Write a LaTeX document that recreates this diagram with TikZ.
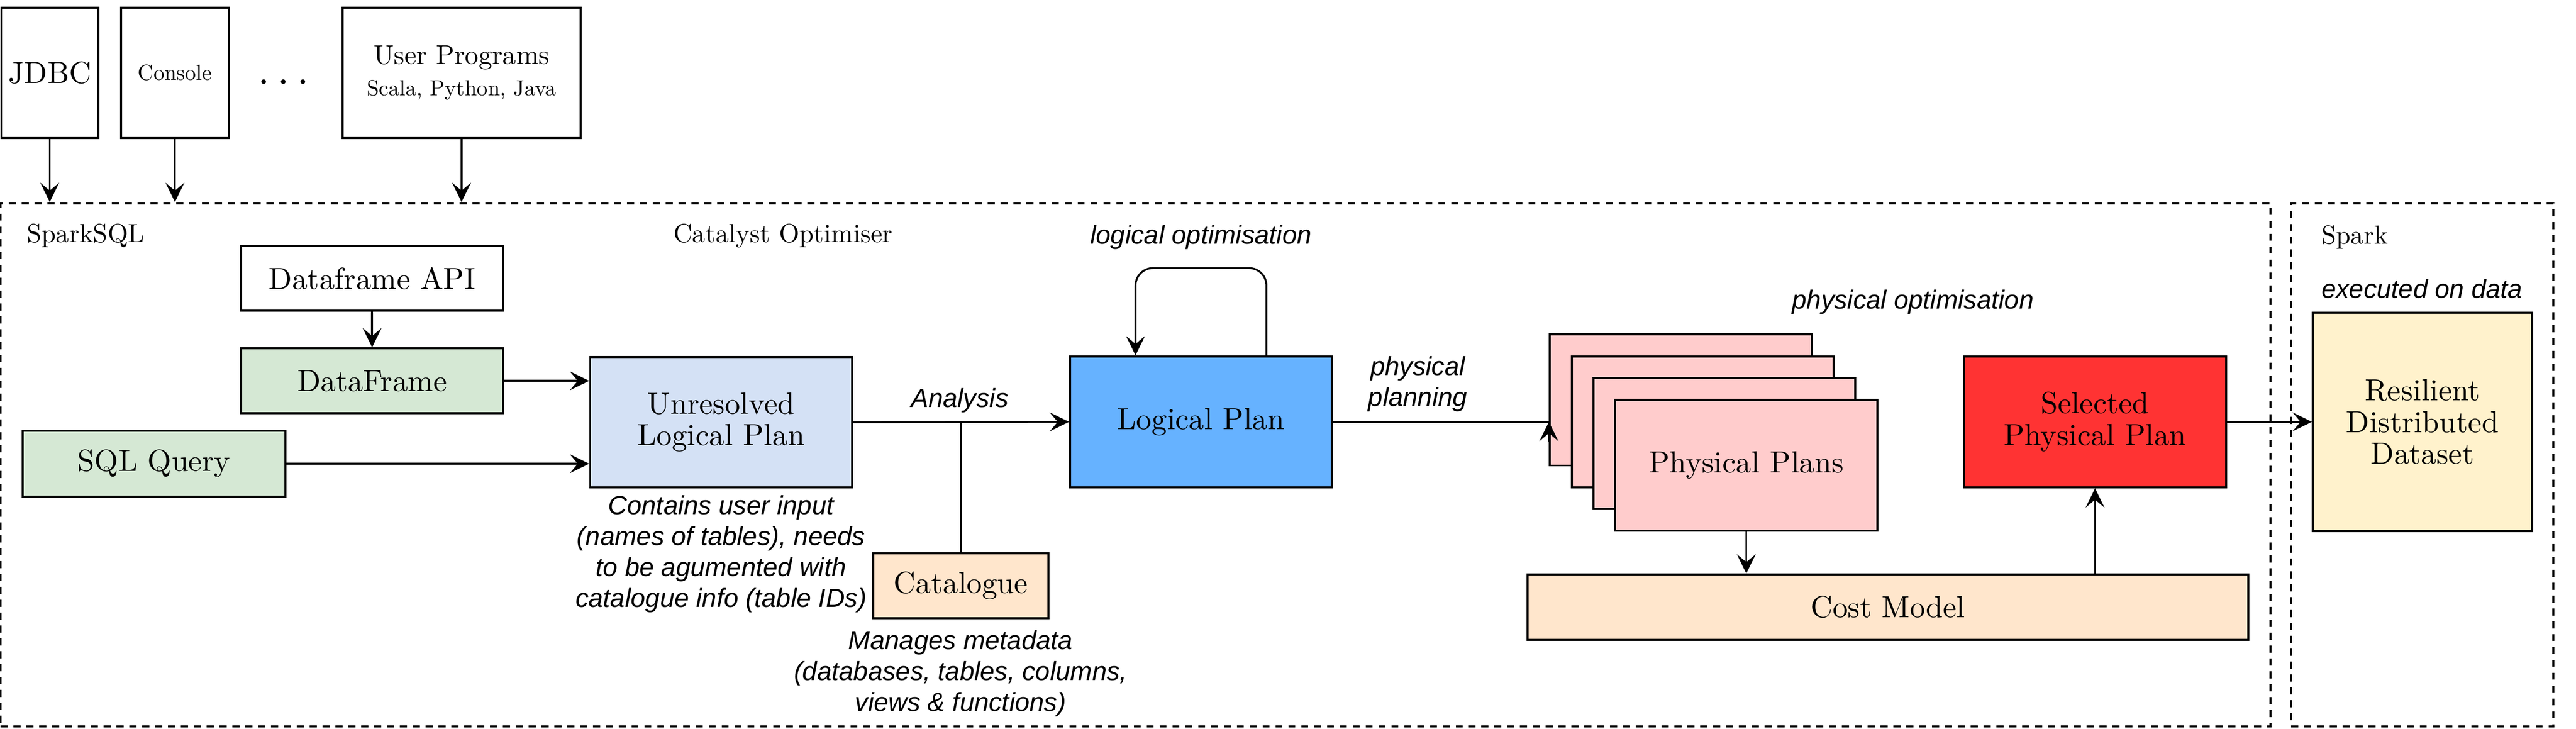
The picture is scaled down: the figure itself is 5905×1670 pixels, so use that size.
\documentclass[tikz,border=0pt]{standalone}
\usepackage{fontspec}
\setmainfont{lmroman10-regular.otf}[ItalicFont=lmroman10-italic.otf,BoldFont=lmroman10-bold.otf]
\newfontfamily\lblfont{Liberation Sans}
\usetikzlibrary{arrows.meta}
\definecolor{cgreen}{HTML}{D5E8D4}
\definecolor{cblue}{HTML}{D4E1F5}
\definecolor{clp}{HTML}{66B2FF}
\definecolor{cpink}{HTML}{FFCCCC}
\definecolor{cred}{HTML}{FF3333}
\definecolor{corange}{HTML}{FFE6CC}
\definecolor{cyellow}{HTML}{FFF2CC}
\newcommand\szBox{\fontsize{19.92pt}{20.6pt}\selectfont}
\newcommand\szLbl{\fontsize{17.07pt}{20.2pt}\selectfont}
\newcommand\szSmall{\fontsize{14.23pt}{17pt}\selectfont}
\newcommand\szUser{\fontsize{17.64pt}{20.2pt}\selectfont}
\newcommand\szDots{\fontsize{28.45pt}{30pt}\selectfont}
\tikzset{
  box/.style={draw, line width=1.3pt, inner sep=0pt, align=center, font=\szBox},
  cont/.style={draw, line width=1.5pt, dash pattern=on 0.16cm off 0.135cm, inner sep=0pt},
  conn/.style={line width=1.2pt},
  arr/.style={conn, -{Stealth[length=0.44cm, width=0.43cm, inset=0.18cm]}},
  lbl/.style={font=\lblfont\itshape\szLbl, align=center, inner sep=0pt},
  tag/.style={font=\szLbl, inner sep=0pt, anchor=base west},
}
\begin{document}
\begin{tikzpicture}[x=0.01cm, y=-0.01cm]
\useasboundingbox (0,0) rectangle (5905,1670);
% containers
\node[cont, minimum width=52cm, minimum height=11.99cm] (sparksql) at (2603,1065.5) {};
\node[cont, minimum width=6.01cm, minimum height=11.99cm] (spark) at (5552.5,1065.5) {};
\node[tag] (tsparksql) at (61,556) {SparkSQL};
\node[tag] (tcatalyst) at (1543,556) {Catalyst Optimiser};
\node[tag] (tspark) at (5321,559) {Spark};
% top inputs
\node[box, minimum width=2.22cm, minimum height=2.98cm] (jdbc) at (114,167) {JDBC};
\node[box, minimum width=2.46cm, minimum height=2.98cm, font=\szSmall] (console) at (401,167) {Console};
\node[font=\szDots, anchor=base, inner sep=0pt] (dots) at (650,193) {.\hspace{0.1667em}.\hspace{0.1667em}.};
\node[box, minimum width=5.45cm, minimum height=2.98cm, font=\szUser] (user) at (1058,167) {User Programs\\{\szSmall Scala, Python, Java}};
\draw[arr] (jdbc.south) -- (jdbc.south |- sparksql.north);
\draw[arr] (console.south) -- (console.south |- sparksql.north);
\draw[arr] (user.south) -- (user.south |- sparksql.north);
% left part
\node[box, minimum width=6.0cm, minimum height=1.49cm] (dfapi) at (853,638) {Dataframe API};
\node[box, fill=cgreen, minimum width=6.0cm, minimum height=1.49cm] (df) at (853,873) {DataFrame};
\node[box, fill=cgreen, minimum width=6.02cm, minimum height=1.5cm] (sql) at (353,1063) {SQL Query};
\node[box, fill=cblue, minimum width=6.0cm, minimum height=2.98cm] (unres) at (1653,968) {Unresolved\\Logical Plan};
\draw[arr] (dfapi.south) -- (df.north);
\draw[arr] (df.east) -- (df.east -| unres.west);
\draw[arr] (sql.east) -- (sql.east -| unres.west);
\node[lbl] (ctext) at (1653,1270) {Contains user input\\(names of tables), needs\\to be agumented with\\catalogue info (table IDs)};
% logical plan
\node[box, fill=clp, minimum width=6.0cm, minimum height=3.0cm] (lp) at (2753,967) {Logical Plan};
\draw[arr] (unres.east) -- (lp.west);
\node[lbl, anchor=base] (tanalysis) at (2200,933) {Analysis};
\node[box, fill=corange, minimum width=4.01cm, minimum height=1.49cm] (cat) at (2202.5,1342.5) {Catalogue};
\coordinate (catj) at (cat.north |- unres.east);
\draw[conn] (catj) -- (cat.north);
\node[lbl] (mtext) at (2202,1544) {Manages metadata\\(databases, tables, columns,\\views \& functions)};
\draw[arr, rounded corners=0.4cm] ([xshift=1.5cm]lp.north) -- ++(0,-200) -| ([xshift=-1.5cm]lp.north);
\node[lbl, anchor=base] (tlogopt) at (2753,559) {logical optimisation};
% physical plans
\node[box, fill=cpink, minimum width=6.0cm, minimum height=3.0cm] (b1) at (3853,917) {};
\node[box, fill=cpink, minimum width=6.0cm, minimum height=3.0cm] (b2) at (3903,967) {};
\node[box, fill=cpink, minimum width=6.0cm, minimum height=3.0cm] (b3) at (3953,1017) {};
\node[box, fill=cpink, minimum width=6.0cm, minimum height=3.0cm] (b4) at (4003,1067) {Physical Plans};
\coordinate (ppin) at (b1.west |- lp.east);
\coordinate (pptail) at ([yshift=-0.45cm]ppin);
\draw[conn] (lp.east) -- (ppin);
\draw[arr] (pptail) -- (ppin);
\node[lbl] (tphysplan) at (3250,880) {physical\\planning};
\node[lbl, anchor=base] (tphysopt) at (4385,708) {physical optimisation};
\node[box, fill=cred, minimum width=6.01cm, minimum height=3.0cm] (sel) at (4802.5,967) {Selected\\Physical Plan};
\node[box, fill=corange, minimum width=16.51cm, minimum height=1.5cm] (cost) at (4327.5,1392) {Cost Model};
\draw[arr] (b4.south) -- (b4.south |- cost.north);
\draw[arr] (cost.north -| sel.south) -- (sel.south);
% spark
\node[box, fill=cyellow, minimum width=5.02cm, minimum height=5.0cm] (rdd) at (5553,967) {Resilient\\Distributed\\Dataset};
\draw[arr] (sel.east) -- (rdd.west);
\node[lbl, anchor=base west] (texec) at (5321,683) {executed on data};
\end{tikzpicture}
\end{document}
